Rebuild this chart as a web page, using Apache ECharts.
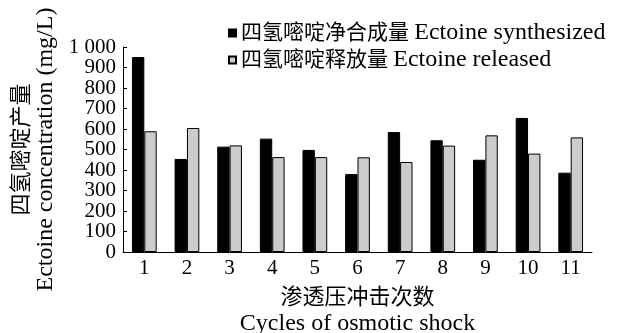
<!DOCTYPE html>
<html>
<head>
<meta charset="utf-8">
<script src="https://cdn.jsdelivr.net/npm/echarts@6/dist/echarts.min.js"></script>
<style>
  html, body { margin: 0; padding: 0; background: #fff; }
  #chart { width: 620px; height: 333px; }
</style>
</head>
<body>
<div id="chart"></div>
<script>
// Osmotic shock cycles and ectoine amounts (mg/L)
const cycles = ['1', '2', '3', '4', '5', '6', '7', '8', '9', '10', '11'];
const synthesized = [951, 454, 514, 553, 498, 380, 585, 545, 450, 654, 387];
const released = [589, 605, 520, 463, 463, 462, 439, 519, 569, 480, 559];
const seriesCn = ['四氢嘧啶净合成量', '四氢嘧啶释放量'];
const seriesEn = ['Ectoine synthesized', 'Ectoine released'];
const yNameCn = '四氢嘧啶产量';
const yNameEn = 'Ectoine concentration (mg/L)';
const xNameCn = '渗透压冲击次数';
const xNameEn = 'Cycles of osmotic shock';
const yMin = 0, yMax = 1000, yStep = 100;
// tick values whose labels sit right next to the axis ends
const nearEndTicks = [100, 900];

const FONT = "'Liberation Serif', 'Times New Roman', 'Noto Sans CJK SC', serif";
const seriesNames = seriesCn.map((c, i) => c + ' ' + seriesEn[i]);
const fmtTick = v => (v === 1000 ? '1 000' : String(v));

// bilingual labels: Chinese and Latin parts get their own sizes
const richText = (cnSize, enSize, lh) => ({
  cn: { fontFamily: FONT, fontSize: cnSize, color: '#000', lineHeight: lh },
  en: { fontFamily: FONT, fontSize: enSize, color: '#000', lineHeight: lh }
});

const tickLabelStyle = { fontFamily: FONT, fontSize: 21, lineHeight: 14, color: '#000', margin: 7 };

const chart = echarts.init(document.getElementById('chart'), null, { renderer: 'canvas' });
chart.setOption({
  animation: false,
  backgroundColor: '#fff',
  textStyle: { fontFamily: FONT, color: '#000' },
  grid: { left: 123, right: 28, top: 47, bottom: 81, containLabel: false, outerBoundsMode: 'none' },
  legend: {
    orient: 'vertical',
    left: 223,
    top: 16,
    itemWidth: 7,
    itemHeight: 7,
    itemGap: 3,
    formatter: name => {
      const i = seriesNames.indexOf(name);
      return '{cn|' + seriesCn[i] + '} {en|' + seriesEn[i] + '}';
    },
    textStyle: { fontFamily: FONT, fontSize: 21, color: '#000', rich: richText(21, 24, 24) },
    data: [
      { name: seriesNames[0], icon: 'rect' },
      { name: seriesNames[1], icon: 'rect' }
    ]
  },
  xAxis: {
    type: 'category',
    data: cycles,
    boundaryGap: true,
    name: '{cn|' + xNameCn + '}\n{en|' + xNameEn + '}',
    nameLocation: 'middle',
    nameGap: 33,
    nameTextStyle: { fontFamily: FONT, fontSize: 22, color: '#000', verticalAlign: 'top', rich: richText(22, 24, 26) },
    axisLine: { lineStyle: { color: '#000', width: 1 } },
    axisTick: { inside: true, length: 5, lineStyle: { color: '#000' } },
    axisLabel: { fontFamily: FONT, fontSize: 21, color: '#000', margin: 6 },
    splitLine: { show: false }
  },
  yAxis: [
    {
      // main value axis: line, name, ends and most labels
      type: 'value',
      position: 'left',
      offset: 0,
      min: yMin,
      max: yMax,
      interval: yStep,
      name: '{cn|' + yNameCn + '}\n{en|' + yNameEn + '}',
      nameLocation: 'middle',
      nameRotate: 90,
      nameGap: 62,
      nameTextStyle: { fontFamily: FONT, fontSize: 22, color: '#000', rich: richText(22, 24, 24) },
      axisLine: { show: true, lineStyle: { color: '#000', width: 1 } },
      axisTick: { show: true, inside: true, length: 4, lineStyle: { color: '#000' } },
      axisLabel: Object.assign({}, tickLabelStyle, {
        showMinLabel: true, showMaxLabel: true,
        formatter: fmtTick
      }),
      splitLine: { show: false }
    },
    {
      // companion axis on the same scale carrying the labels beside the ends
      type: 'value',
      position: 'left',
      offset: 0,
      min: yMin,
      max: yMax,
      interval: yStep,
      axisLine: { show: false },
      axisTick: { show: true, inside: true, length: 4, lineStyle: { color: '#000' } },
      axisLabel: Object.assign({}, tickLabelStyle, {
        showMinLabel: false, showMaxLabel: false,
        formatter: v => (nearEndTicks.includes(v) ? fmtTick(v) : '')
      }),
      splitLine: { show: false }
    }
  ],
  series: [
    {
      name: seriesNames[0],
      type: 'bar',
      data: synthesized,
      barGap: '0%',
      barCategoryGap: '42%',
      itemStyle: { color: '#000', borderColor: '#000', borderWidth: 1 }
    },
    {
      name: seriesNames[1],
      type: 'bar',
      data: released,
      barGap: '0%',
      barCategoryGap: '42%',
      itemStyle: { color: '#cccccc', borderColor: '#000', borderWidth: 1 }
    }
  ]
});
</script>
</body>
</html>
